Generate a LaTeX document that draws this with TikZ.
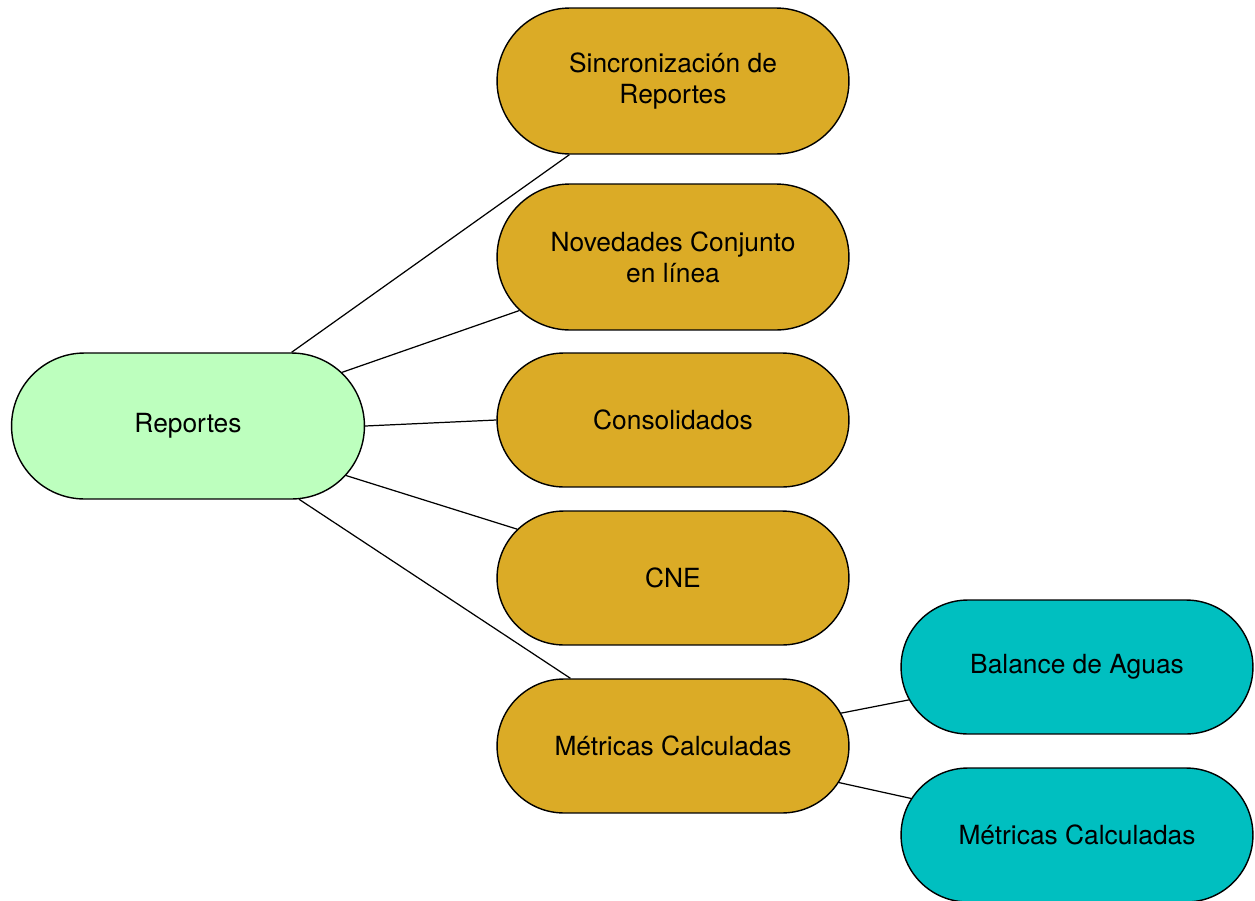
\documentclass[tikz,border=0pt]{standalone}
\usepackage{fontspec}
\setmainfont{TeX Gyre Heros}
\usetikzlibrary{shapes.misc}
\definecolor{rootgreen}{RGB}{189,255,190}
\definecolor{topicgold}{RGB}{219,171,38}
\definecolor{leafteal}{RGB}{0,191,192}
\begin{document}
\begin{tikzpicture}[x=0.02cm, y=-0.02cm,
    box/.style={rounded rectangle, draw, line width=0.8pt, align=center,
      font=\fontsize{15}{17.5}\selectfont, minimum width=7.18cm,
      minimum height=2.68cm, inner sep=2pt},
    root/.style={box, fill=rootgreen, minimum width=7.2cm,
      minimum height=2.92cm},
    topic/.style={box, fill=topicgold},
    leaf/.style={box, fill=leafteal},
    link/.style={line width=0.7pt}]
    \useasboundingbox (0,0) rectangle (1255,900);
    \begin{scope}[every node/.style={topic}]
      \node [minimum height=2.92cm] (sinc) at (673,81) {Sincronización de\\Reportes};
      \node [minimum height=2.92cm] (nov) at (673,257) {Novedades Conjunto\\en línea};
      \node (cons) at (673,420) {Consolidados};
      \node (cne) at (673,578) {CNE};
      \node (metr) at (673,746) {Métricas Calculadas};
    \end{scope}
    \node [root] (rep) at (188,426) {Reportes};
    \node [leaf] (bal) at (1077,667) {Balance de Aguas};
    \node [leaf] (metr2) at (1077,835) {Métricas Calculadas};
    \begin{scope}[link]
      \draw (rep) -- (sinc);
      \draw (rep) -- (nov);
      \draw (rep.east) -- (cons.west);
      \draw (rep) -- (cne);
      \draw (rep) -- (metr);
      \draw (metr) -- (bal);
      \draw (metr) -- (metr2);
    \end{scope}
\end{tikzpicture}
\end{document}
